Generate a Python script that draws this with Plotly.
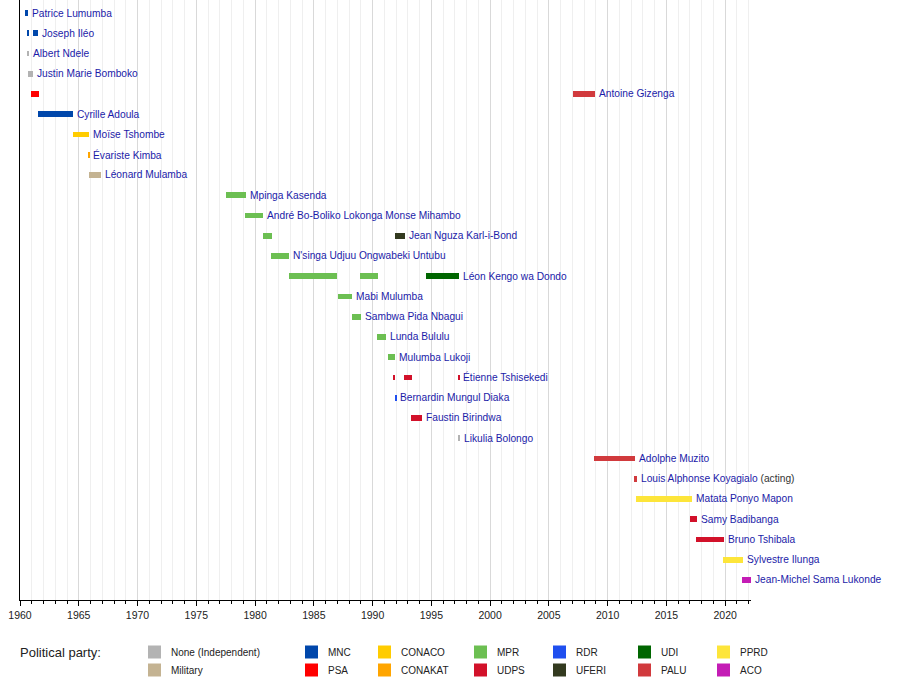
import plotly.graph_objects as go

# ---------------- data ----------------
names = [
    "Patrice Lumumba", "Joseph Iléo", "Albert Ndele", "Justin Marie Bomboko",
    "Antoine Gizenga", "Cyrille Adoula", "Moïse Tshombe", "Évariste Kimba",
    "Léonard Mulamba", "Mpinga Kasenda", "André Bo-Boliko Lokonga Monse Mihambo",
    "Jean Nguza Karl-i-Bond", "N'singa Udjuu Ongwabeki Untubu", "Léon Kengo wa Dondo",
    "Mabi Mulumba", "Sambwa Pida Nbagui", "Lunda Bululu", "Mulumba Lukoji",
    "Étienne Tshisekedi", "Bernardin Mungul Diaka", "Faustin Birindwa",
    "Likulia Bolongo", "Adolphe Muzito", "Louis Alphonse Koyagialo",
    "Matata Ponyo Mapon", "Samy Badibanga", "Bruno Tshibala", "Sylvestre Ilunga",
    "Jean-Michel Sama Lukonde",
]
name_suffix = {"Louis Alphonse Koyagialo": " (acting)"}

# one entry per term bar: row index, start year, end year, party
bar_row = [0, 1, 1, 2, 3, 4, 4, 5, 6, 7, 8, 9, 10, 11, 11, 12, 13, 13, 13,
           14, 15, 16, 17, 18, 18, 18, 19, 20, 21, 22, 23, 24, 25, 26, 27, 28]
bar_start = [1960.45, 1960.68, 1961.12, 1960.68, 1960.70, 1960.95, 2007.05,
             1961.55, 1964.50, 1965.80, 1965.90, 1977.55, 1979.15, 1980.70,
             1991.90, 1981.37, 1982.90, 1988.95, 1994.55, 1987.05, 1988.28,
             1990.40, 1991.35, 1991.80, 1992.68, 1997.28, 1991.93, 1993.28,
             1997.30, 2008.85, 2012.28, 2012.43, 2017.00, 2017.53, 2019.80,
             2021.47]
bar_end = [1960.72, 1960.75, 1961.57, 1960.76, 1961.12, 1961.62, 2008.93,
           1964.50, 1965.87, 1965.88, 1966.92, 1979.20, 1980.70, 1981.40,
           1992.76, 1982.90, 1986.95, 1990.45, 1997.37, 1988.28, 1989.00,
           1991.10, 1991.90, 1991.88, 1993.36, 1997.36, 1992.00, 1994.22,
           1997.40, 2012.34, 2012.52, 2017.17, 2017.63, 2019.93, 2021.50,
           2022.20]
bar_party = ["MNC", "MNC", "MNC", "None (Independent)", "None (Independent)",
             "PSA", "PALU", "MNC", "CONACO", "CONAKAT", "Military", "MPR", "MPR",
             "MPR", "UFERI", "MPR", "MPR", "MPR", "UDI", "MPR", "MPR", "MPR", "MPR",
             "UDPS", "UDPS", "UDPS", "RDR", "UDPS", "None (Independent)", "PALU",
             "PALU", "PPRD", "UDPS", "UDPS", "PPRD", "ACO"]

parties = ["None (Independent)", "Military", "MNC", "PSA", "CONACO", "CONAKAT",
           "MPR", "UDPS", "RDR", "UFERI", "UDI", "PALU", "PPRD", "ACO"]
party_colors = ["#B3B3B3", "#C4B392", "#0047AB", "#FF0000", "#FFCC00", "#FFA500",
                "#6CBF52", "#D2112A", "#1F4FEF", "#333A1F", "#006600", "#D13A3D",
                "#FDE53A", "#C41CB5"]

tick_years = [1960, 1965, 1970, 1975, 1980, 1985, 1990, 1995, 2000, 2005, 2010, 2015, 2020]
x_range = [1960, 2022.2]

# ---------------- figure ----------------
color_of = dict(zip(parties, party_colors))
W, H = 900, 678
L, R, T, B = 20, 149, 0, 78
plot_w, plot_h = W - L - R, H - T - B
FONT = "Liberation Sans, Arial"

fig = go.Figure()
fig.add_trace(go.Bar(
    orientation="h",
    y=bar_row,
    base=bar_start,
    x=[e - s for s, e in zip(bar_start, bar_end)],
    width=0.29,
    marker=dict(color=[color_of[p] for p in bar_party], line=dict(width=0)),
    showlegend=False,
    hoverinfo="skip",
))

# name labels placed after the last bar of each row
last_end = {}
for r, e in zip(bar_row, bar_end):
    last_end[r] = max(last_end.get(r, 0), e)

annotations = []
for i, n in enumerate(names):
    txt = n
    if n in name_suffix:
        txt = n + "<span style='color:#333333'>" + name_suffix[n] + "</span>"
    annotations.append(dict(
        x=last_end[i], y=i, xref="x", yref="y", text=txt,
        showarrow=False, xanchor="left", yanchor="middle", xshift=2,
        font=dict(family=FONT, size=10.2, color="#1B1BA8"),
    ))

# legend
def px_x(px):
    return (px - L) / plot_w

def px_y(py):
    return (H - B - py) / plot_h

annotations.append(dict(
    x=px_x(18), y=px_y(652), xref="paper", yref="paper", text="Political party:",
    showarrow=False, xanchor="left", yanchor="middle",
    font=dict(family=FONT, size=13, color="#222222"),
))
legend_cols_px = [148, 305, 378, 474, 553, 638, 717]
legend_rows_px = [652, 670]
shapes = []
for i, (p, c) in enumerate(zip(parties, party_colors)):
    cx = legend_cols_px[i // 2]
    cy = legend_rows_px[i % 2]
    shapes.append(dict(
        type="rect", xref="paper", yref="paper",
        x0=px_x(cx), x1=px_x(cx + 13), y0=px_y(cy + 6.5), y1=px_y(cy - 6.5),
        fillcolor=c, line=dict(width=0), layer="above",
    ))
    annotations.append(dict(
        x=px_x(cx + 21), y=px_y(cy), xref="paper", yref="paper", text=p,
        showarrow=False, xanchor="left", yanchor="middle",
        font=dict(family=FONT, size=10, color="#222222"),
    ))

row_top = -0.642
row_bottom = 28.99

fig.update_layout(
    width=W, height=H,
    margin=dict(l=L, r=R, t=T, b=B, pad=0),
    paper_bgcolor="white", plot_bgcolor="white",
    bargap=0,
    xaxis=dict(
        range=x_range, tickvals=tick_years, ticktext=[str(t) for t in tick_years],
        showgrid=True, gridcolor="#D9D9D9", gridwidth=1,
        showline=True, linecolor="black", linewidth=1,
        ticks="outside", ticklen=5, tickcolor="black", tickwidth=1,
        tickfont=dict(family=FONT, size=10.5, color="#222222"),
        minor=dict(dtick=1, tick0=1960, ticks="outside", ticklen=3, tickcolor="black",
                   showgrid=True, gridcolor="#EFEFEF", gridwidth=1),
        zeroline=False, fixedrange=True,
    ),
    yaxis=dict(
        range=[row_bottom, row_top], showgrid=False, zeroline=False,
        showticklabels=False, ticks="",
        showline=True, linecolor="black", linewidth=1, fixedrange=True,
    ),
    annotations=annotations,
    shapes=shapes,
)

fig.write_html(
    "out.html",
    config={"displayModeBar": False},
    post_script="document.body.style.margin='0';document.body.style.overflow='hidden';",
)
